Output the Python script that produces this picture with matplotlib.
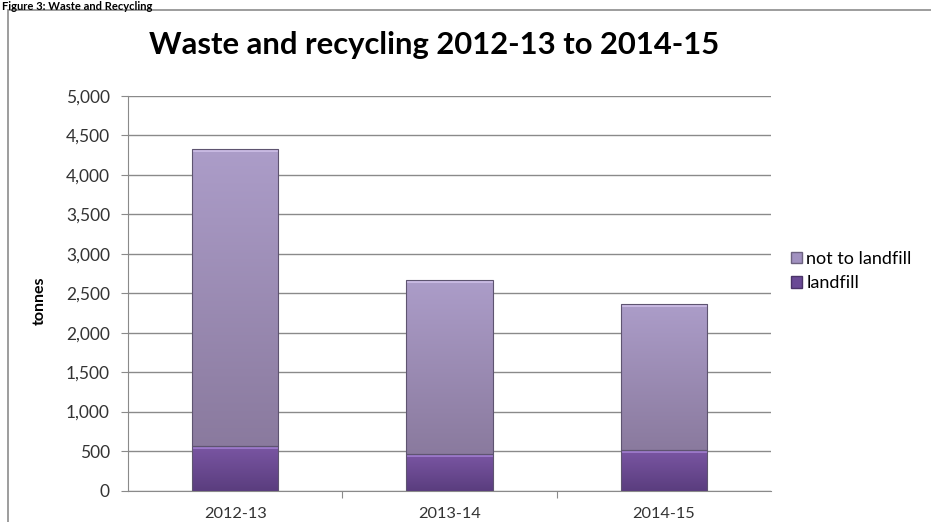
import matplotlib
matplotlib.use("Agg")
import matplotlib.pyplot as plt
import numpy as np
from matplotlib.patches import Rectangle
from matplotlib.colors import LinearSegmentedColormap
from matplotlib.ticker import FuncFormatter, MultipleLocator

years = ["2012-13", "2013-14", "2014-15"]
landfill = [560, 460, 510]
not_to_landfill = [3770, 2210, 1860]
series_names = ["not to landfill", "landfill"]

FONT = ["Lato", "DejaVu Sans"]
plt.rcParams['font.family'] = FONT

fig = plt.figure(figsize=(9.31, 5.22), dpi=100)
W, H = 931, 522

# outer chart border
fig.patches.append(Rectangle((8 / W, -0.05), 1.0, 1 - 10 / H + 0.05, transform=fig.transFigure,
                             fill=False, edgecolor="#8c8c8c", linewidth=1.2))
# caption above the chart box
fig.text(2 / W, 1 - 0.5 / H, "Figure 3: Waste and Recycling", ha="left", va="top",
         fontsize=8, fontweight="bold", color="#000000")

ax = fig.add_axes([128 / W, 1 - 490.5 / H, 643 / W, 394.5 / H])
ax.set_xlim(-0.5, 2.5)
ax.set_ylim(0, 5000)

x = np.arange(len(years))
width = 0.404

cm_top = LinearSegmentedColormap.from_list("t", ["#8a7a9e", "#ac9dc9"])
cm_bot = LinearSegmentedColormap.from_list("b", ["#5a3d7e", "#7a56a3"])
grad = np.linspace(0, 1, 256).reshape(-1, 1)

ax.set_axisbelow(True)
ax.yaxis.grid(True, color="#8a8a8a", linewidth=1.0)
ax.yaxis.set_major_locator(MultipleLocator(500))
ax.yaxis.set_major_formatter(FuncFormatter(lambda v, p: f"{int(v):,}"))

def draw_bar(xc, bottom, height, cmap, hi):
    x0 = xc - width / 2
    r = Rectangle((x0, bottom), width, height, facecolor="none",
                  edgecolor="#5e5470", linewidth=0.8, zorder=4)
    ax.add_patch(r)
    im = ax.imshow(grad, cmap=cmap, aspect="auto", origin="lower",
                   extent=[x0, x0 + width, bottom, bottom + height], zorder=3)
    im.set_clip_path(r)
    # bevel highlight at top
    ax.add_patch(Rectangle((x0, bottom + height - 40), width, 40, facecolor=hi,
                           edgecolor="none", alpha=0.75, zorder=3.5))

for i in range(len(years)):
    draw_bar(x[i], 0, landfill[i], cm_bot, "#a784d6")
    draw_bar(x[i], landfill[i], not_to_landfill[i], cm_top, "#d2c3ec")

ax.set_xticks([0.5, 1.5])
ax.set_xticklabels([])
ax.set_xticks(x, minor=True)
ax.set_xticklabels(years, minor=True)
ax.tick_params(axis="x", which="minor", length=0, pad=12, labelsize=11.8, labelcolor="#333333")
ax.tick_params(axis="x", which="major", length=5, color="#8a8a8a", direction="out")
ax.tick_params(axis="y", length=5, color="#8a8a8a", pad=8, labelsize=12.5, labelcolor="#333333")

for s in ["top", "right"]:
    ax.spines[s].set_visible(False)
ax.spines["left"].set_color("#8a8a8a")
ax.spines["bottom"].set_color("#8a8a8a")

ax.set_ylabel("tonnes", fontsize=11.5, fontweight="bold")
ax.yaxis.set_label_coords(-0.126, 0.48)

fig.text(434 / W, 1 - 45 / H, "Waste and recycling 2012-13 to 2014-15", ha="center", va="center",
         fontsize=22.3, fontweight="bold", color="#000000")

# legend
h1 = Rectangle((0, 0), 1, 1, facecolor="#a191c0", edgecolor="#6d6280")
h2 = Rectangle((0, 0), 1, 1, facecolor="#6a4a95", edgecolor="#4b3468")
fig.legend([h1, h2], series_names, loc="upper left", bbox_to_anchor=(782 / W, 1 - 242 / H),
           frameon=False, fontsize=13, handlelength=0.6, handleheight=0.6, handletextpad=0.25,
           labelspacing=0.45, borderpad=0)

fig.savefig("out.png", dpi=100)
